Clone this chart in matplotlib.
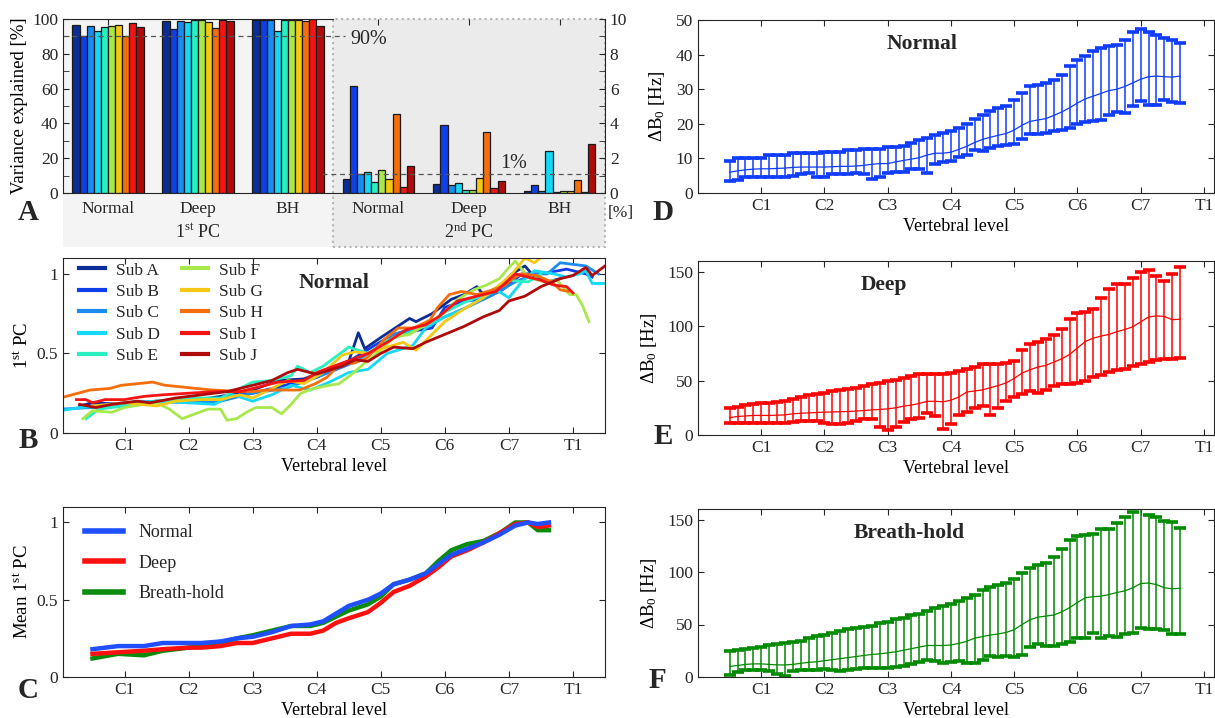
import numpy as np
import matplotlib.pyplot as plt
from matplotlib.patches import Rectangle

plt.rcParams['font.family'] = ['Liberation Serif', 'DejaVu Serif']
plt.rcParams['mathtext.fontset'] = 'custom'
plt.rcParams['mathtext.rm'] = 'Liberation Serif'
plt.rcParams['mathtext.it'] = 'Liberation Serif:italic'
plt.rcParams['mathtext.bf'] = 'Liberation Serif:bold'
plt.rcParams['font.size'] = 12.5
plt.rcParams['text.color'] = '#262626'
plt.rcParams['axes.edgecolor'] = '#262626'
plt.rcParams['xtick.color'] = '#262626'
plt.rcParams['ytick.color'] = '#262626'
plt.rcParams['xtick.direction'] = 'in'
plt.rcParams['ytick.direction'] = 'in'

# ---------------- data ----------------
subjects = ['Sub A', 'Sub B', 'Sub C', 'Sub D', 'Sub E', 'Sub F', 'Sub G', 'Sub H', 'Sub I', 'Sub J']
sub_colors = ['#0b2d96', '#0f3fe8', '#1a8cf0', '#14d8f5', '#28f0c0',
              '#a8e84a', '#f5c814', '#f56e0a', '#f51414', '#b00a0a']
groups = ['Normal', 'Deep', 'BH']

# variance explained, 1st PC [%]  (rows: Normal, Deep, BH)
pc1 = [[96.5, 90.4, 95.8, 93.1, 95.4, 96.2, 96.5, 90.4, 97.7, 95.4],
       [99.0, 94.4, 98.9, 98.1, 99.6, 99.6, 98.3, 95.0, 99.2, 98.9],
       [99.6, 99.6, 99.6, 93.1, 99.6, 99.6, 99.6, 98.9, 100.0, 96.2]]
# variance explained, 2nd PC [%]
pc2 = [[0.82, 6.13, 1.11, 1.23, 0.61, 1.34, 0.82, 4.54, 0.34, 1.53],
       [0.54, 3.93, 0.44, 0.57, 0.15, 0.17, 0.84, 3.50, 0.31, 0.71],
       [0.13, 0.44, 0.11, 2.41, 0.06, 0.11, 0.13, 0.75, 0.06, 2.80]]

level_ticks = [1, 2, 3, 4, 5, 6, 7, 8]
level_labels = ['C1', 'C2', 'C3', 'C4', 'C5', 'C6', 'C7', 'T1']

# 1st PC per subject, normal breathing (x in vertebral units, C1 = 1)
subA_x = [0.3, 0.5, 1.0, 1.5, 2.0, 2.5, 3.0, 3.4, 3.8, 4.2, 4.5, 4.65, 4.75, 5.0, 5.45, 5.55, 5.8, 6.1, 6.3, 6.5, 6.6, 6.85, 7.05, 7.25, 7.4, 7.6, 7.8]
subA_y = [0.17, 0.19, 0.18, 0.20, 0.20, 0.23, 0.27, 0.33, 0.34, 0.40, 0.45, 0.63, 0.53, 0.60, 0.72, 0.70, 0.75, 0.84, 0.87, 0.92, 0.87, 0.92, 1.00, 1.05, 0.98, 0.95, 0.97]
subB_x = [0.5, 1.0, 1.5, 2.0, 2.5, 3.0, 3.5, 4.0, 4.5, 4.9, 5.2, 5.5, 5.8, 6.0, 6.3, 6.6, 6.9, 7.2, 7.5, 7.9, 8.2, 8.3]
subB_y = [0.17, 0.19, 0.20, 0.20, 0.22, 0.25, 0.30, 0.35, 0.45, 0.55, 0.62, 0.64, 0.66, 0.79, 0.83, 0.84, 0.90, 1.00, 1.00, 1.03, 1.00, 0.98]
subC_x = [0.0, 0.5, 1.0, 1.5, 2.0, 2.5, 3.0, 3.5, 4.0, 4.5, 4.9, 5.2, 5.6, 6.0, 6.4, 6.8, 7.1, 7.4, 7.6, 7.8, 8.0, 8.2, 8.4]
subC_y = [0.15, 0.16, 0.18, 0.20, 0.19, 0.20, 0.25, 0.28, 0.35, 0.43, 0.52, 0.62, 0.67, 0.73, 0.80, 0.88, 0.95, 1.00, 1.00, 1.07, 1.06, 1.05, 1.00]
subD_x = [0.0, 0.3, 0.7, 1.2, 2.0, 2.4, 2.7, 3.0, 3.3, 3.6, 3.9, 4.2, 4.5, 4.8, 5.1, 5.5, 5.7, 6.0, 6.3, 6.6, 6.8, 7.0, 7.2, 7.4, 7.7, 7.9, 8.1, 8.2, 8.3, 8.5]
subD_y = [0.14, 0.16, 0.17, 0.20, 0.19, 0.18, 0.24, 0.20, 0.24, 0.30, 0.27, 0.32, 0.38, 0.40, 0.50, 0.55, 0.66, 0.73, 0.78, 0.85, 0.90, 0.85, 0.95, 1.02, 1.00, 0.98, 1.00, 1.02, 0.94, 0.94]
subE_x = [0.4, 0.6, 1.0, 1.5, 2.0, 2.5, 3.0, 3.3, 3.6, 3.7, 3.9, 4.1, 4.5, 4.8, 5.1, 5.5, 5.8, 6.0, 6.3, 6.7, 7.0, 7.3, 7.5]
subE_y = [0.09, 0.15, 0.17, 0.20, 0.22, 0.22, 0.32, 0.33, 0.36, 0.42, 0.38, 0.42, 0.54, 0.50, 0.58, 0.64, 0.70, 0.76, 0.82, 0.88, 0.96, 0.95, 1.00]
subF_x = [0.35, 0.5, 0.8, 1.0, 1.3, 1.5, 1.7, 1.9, 2.1, 2.3, 2.5, 2.6, 2.75, 2.9, 3.05, 3.3, 3.45, 3.6, 3.75, 3.95, 4.2, 4.35, 4.55, 4.75, 5.0, 5.2, 5.45, 5.7, 5.95, 6.2, 6.45, 6.65, 6.85, 7.0, 7.1, 7.3, 7.55, 7.75, 7.95, 8.05, 8.15, 8.25]
subF_y = [0.09, 0.14, 0.13, 0.16, 0.18, 0.19, 0.15, 0.09, 0.12, 0.15, 0.15, 0.08, 0.09, 0.13, 0.16, 0.16, 0.12, 0.18, 0.25, 0.28, 0.30, 0.31, 0.37, 0.44, 0.52, 0.60, 0.62, 0.68, 0.74, 0.84, 0.90, 0.93, 0.97, 1.04, 1.08, 0.98, 0.95, 0.96, 0.87, 0.87, 0.80, 0.70]
subG_x = [0.5, 1.0, 1.5, 1.8, 2.2, 2.5, 2.8, 3.0, 3.3, 3.55, 3.8, 4.1, 4.4, 4.6, 4.8, 5.1, 5.35, 5.55, 5.75, 6.0, 6.3, 6.6, 6.85, 7.05, 7.25, 7.4, 7.55]
subG_y = [0.17, 0.19, 0.17, 0.20, 0.21, 0.21, 0.24, 0.22, 0.28, 0.33, 0.31, 0.38, 0.49, 0.51, 0.50, 0.54, 0.57, 0.52, 0.60, 0.70, 0.78, 0.85, 0.93, 1.00, 1.10, 1.07, 1.12]
subH_x = [0.04, 0.46, 0.77, 0.95, 1.2, 1.44, 1.63, 1.88, 2.12, 2.37, 2.62, 2.99, 3.23, 3.48, 3.73, 3.98, 4.16, 4.35, 4.59, 4.78, 4.9, 5.06, 5.27, 5.52, 5.77, 5.89, 6.07, 6.26, 6.5, 6.75, 6.94, 7.06, 7.19, 7.43, 7.67, 7.8, 7.93]
subH_y = [0.225, 0.27, 0.28, 0.30, 0.31, 0.32, 0.30, 0.29, 0.28, 0.27, 0.265, 0.26, 0.27, 0.27, 0.27, 0.31, 0.35, 0.43, 0.44, 0.47, 0.52, 0.59, 0.66, 0.66, 0.71, 0.79, 0.87, 0.89, 0.87, 0.90, 0.93, 0.97, 1.00, 0.99, 0.95, 0.90, 0.89]
subI_x = [0.25, 0.4, 0.5, 0.7, 1.0, 1.3, 1.6, 2.0, 2.4, 2.8, 3.0, 3.4, 3.8, 4.0, 4.4, 4.8, 5.1, 5.4, 5.7, 5.9, 6.2, 6.5, 6.8, 7.1, 7.3, 7.5, 7.7, 7.9, 8.0]
subI_y = [0.21, 0.21, 0.19, 0.21, 0.21, 0.23, 0.24, 0.25, 0.26, 0.26, 0.28, 0.32, 0.33, 0.38, 0.44, 0.50, 0.57, 0.65, 0.68, 0.73, 0.83, 0.86, 0.89, 1.00, 0.98, 0.96, 0.93, 0.92, 0.88]
subJ_x = [0.3, 0.55, 0.8, 1.2, 1.4, 1.8, 2.2, 2.6, 3.0, 3.3, 3.55, 3.7, 4.0, 4.4, 4.6, 4.8, 5.0, 5.2, 5.5, 5.7, 6.0, 6.3, 6.6, 6.85, 7.0, 7.25, 7.5, 7.8, 8.0, 8.2, 8.3, 8.5]
subJ_y = [0.18, 0.16, 0.18, 0.20, 0.19, 0.22, 0.24, 0.26, 0.30, 0.33, 0.38, 0.40, 0.37, 0.42, 0.46, 0.45, 0.50, 0.54, 0.53, 0.57, 0.62, 0.67, 0.73, 0.77, 0.83, 0.86, 0.92, 0.97, 0.99, 1.04, 0.99, 1.05]
sub_x = [subA_x, subB_x, subC_x, subD_x, subE_x, subF_x, subG_x, subH_x, subI_x, subJ_x]
sub_y = [subA_y, subB_y, subC_y, subD_y, subE_y, subF_y, subG_y, subH_y, subI_y, subJ_y]

# mean 1st PC per breathing condition
mean_x = [0.5, 0.9, 1.3, 1.6, 2.0, 2.2, 2.5, 2.75, 3.0, 3.3, 3.6, 3.9, 4.1, 4.3, 4.5, 4.8, 5.0, 5.2, 5.45, 5.7, 5.9, 6.1, 6.35, 6.6, 6.85, 7.1, 7.3, 7.45, 7.625]
mean_normal = [0.18, 0.20, 0.20, 0.22, 0.22, 0.22, 0.23, 0.25, 0.26, 0.29, 0.33, 0.34, 0.36, 0.41, 0.46, 0.50, 0.54, 0.60, 0.63, 0.67, 0.73, 0.79, 0.83, 0.87, 0.92, 0.98, 1.00, 0.99, 1.00]
mean_deep = [0.15, 0.16, 0.17, 0.18, 0.19, 0.19, 0.20, 0.22, 0.22, 0.25, 0.28, 0.28, 0.30, 0.35, 0.38, 0.42, 0.48, 0.55, 0.59, 0.65, 0.71, 0.78, 0.82, 0.87, 0.93, 0.99, 1.00, 0.97, 0.98]
mean_bh = [0.12, 0.15, 0.14, 0.17, 0.19, 0.20, 0.22, 0.25, 0.27, 0.30, 0.33, 0.33, 0.35, 0.39, 0.43, 0.47, 0.52, 0.60, 0.63, 0.67, 0.75, 0.82, 0.86, 0.88, 0.93, 1.00, 1.00, 0.95, 0.95]

# Delta B0 across slices (x = 0.5 .. 7.625 in steps of 1/8)
b0_x = list(np.arange(58) * 0.125 + 0.5)
normal_mean = [6.0, 6.4, 6.7, 6.9, 7.0, 7.0, 7.1, 7.2, 7.4, 7.5, 7.5, 7.5, 7.5, 7.6, 7.7, 7.7, 7.8, 8.0, 8.3, 8.5,
               8.5, 9.0, 9.4, 9.8, 10.2, 11.0, 11.5, 11.5, 11.8, 12.6, 13.5, 14.6, 15.5, 16.1, 16.7, 17.2, 18.2, 19.6, 20.7, 21.1,
               21.5, 22.4, 23.4, 24.6, 26.0, 27.2, 28.0, 28.8, 29.6, 30.0, 30.8, 31.8, 32.9, 33.6, 33.8, 33.6, 33.5, 33.8]
normal_hi = [9.3, 10.2, 10.2, 10.2, 10.2, 11.0, 11.0, 11.0, 11.5, 11.5, 11.5, 11.5, 11.8, 11.8, 11.8, 12.3, 12.3, 12.6, 12.6, 12.6,
             13.2, 13.2, 13.6, 14.4, 15.3, 15.8, 16.7, 17.3, 17.8, 18.7, 19.8, 21.5, 22.6, 23.8, 24.7, 25.2, 27.0, 29.0, 30.8, 31.3,
             31.9, 32.8, 34.2, 36.7, 38.4, 39.7, 41.1, 42.0, 42.6, 42.9, 44.3, 46.6, 47.5, 46.4, 45.7, 44.9, 44.3, 43.4]
normal_lo = [3.5, 3.9, 4.7, 4.7, 4.7, 4.7, 4.7, 4.7, 5.0, 5.5, 5.8, 4.7, 4.7, 5.5, 5.5, 5.5, 5.8, 5.5, 4.1, 4.7,
             5.8, 6.1, 6.1, 6.9, 6.9, 5.8, 8.4, 9.0, 9.3, 10.5, 11.0, 12.4, 12.0, 13.0, 13.6, 13.9, 14.2, 15.6, 17.0, 17.0,
             17.3, 17.9, 18.2, 18.8, 20.0, 20.4, 20.8, 21.0, 22.5, 23.4, 23.0, 25.0, 26.5, 25.3, 25.3, 26.8, 26.3, 26.0]
deep_mean = [16.0, 17.0, 17.5, 18.0, 18.0, 18.0, 18.2, 18.5, 19.5, 20.0, 20.3, 20.7, 21.0, 21.2, 21.4, 21.6, 22.0, 22.5, 23.0, 23.5,
             24.0, 25.0, 26.5, 27.5, 29.0, 31.0, 31.0, 30.5, 32.0, 35.0, 39.5, 40.5, 41.5, 43.5, 45.5, 48.0, 52.0, 57.0, 60.0, 62.5,
             64.0, 67.0, 70.0, 74.0, 80.0, 86.0, 89.0, 91.0, 92.5, 95.0, 97.0, 99.5, 104.0, 108.5, 109.5, 109.0, 106.0, 106.5]
deep_hi = [25.0, 26.0, 28.0, 28.5, 29.8, 29.8, 30.5, 31.0, 33.4, 35.3, 37.0, 38.0, 39.0, 40.0, 41.0, 42.0, 43.5, 45.4, 47.0, 48.0,
           49.7, 50.6, 52.0, 54.3, 56.0, 56.0, 56.0, 56.0, 57.0, 59.0, 61.0, 62.5, 65.5, 65.5, 65.5, 66.5, 68.0, 78.0, 83.5, 85.5,
           88.0, 92.0, 97.5, 106.5, 112.0, 113.0, 116.0, 126.0, 134.0, 139.0, 139.0, 144.5, 150.0, 152.0, 146.5, 141.5, 148.5, 154.5]
deep_lo = [10.7, 11.3, 11.3, 11.3, 11.3, 10.7, 10.7, 10.7, 11.7, 12.6, 12.6, 12.6, 11.3, 9.8, 9.8, 10.7, 12.6, 14.4, 14.4, 7.7,
           4.6, 7.7, 11.7, 15.0, 16.0, 20.0, 17.2, 5.5, 10.4, 18.5, 21.0, 25.0, 27.0, 18.0, 25.0, 31.0, 35.0, 38.0, 40.0, 39.0,
           41.0, 45.0, 47.0, 47.0, 48.0, 50.0, 53.0, 55.0, 58.0, 60.0, 61.0, 63.0, 65.0, 67.0, 69.0, 70.0, 70.0, 71.0]
bh_mean = [10.0, 11.0, 12.0, 12.5, 12.5, 12.0, 11.5, 11.5, 12.0, 13.0, 14.0, 14.5, 15.5, 16.5, 17.5, 18.5, 19.5, 20.5, 21.5, 22.0,
           23.0, 24.0, 25.5, 27.0, 28.5, 30.0, 30.0, 30.0, 30.5, 32.0, 34.0, 37.0, 38.5, 40.0, 41.0, 42.5, 45.0, 50.0, 54.5, 57.0,
           58.0, 59.0, 62.0, 66.0, 71.0, 75.5, 76.5, 77.0, 78.5, 80.5, 82.0, 85.0, 89.0, 89.5, 88.0, 85.0, 84.0, 84.5]
bh_hi = [24.8, 25.7, 26.6, 27.5, 28.8, 30.6, 31.5, 32.4, 33.4, 34.6, 36.7, 38.9, 39.8, 41.6, 43.5, 45.3, 46.5, 47.4, 49.0, 51.1,
         52.6, 55.0, 56.6, 58.8, 60.0, 62.7, 65.5, 67.6, 70.0, 72.0, 75.0, 78.4, 83.3, 86.0, 87.2, 89.4, 93.0, 99.5, 104.0, 106.8,
         108.7, 114.2, 122.0, 130.7, 134.4, 135.3, 136.2, 140.8, 140.8, 146.3, 152.1, 157.3, 165.0, 154.6, 152.1, 149.0, 147.2, 142.3]
bh_lo = [1.8, 4.6, 6.4, 6.4, 6.4, 5.8, 3.1, 1.2, 5.8, 6.4, 6.4, 6.4, 7.3, 6.7, 5.8, 6.7, 7.7, 8.6, 8.6, 8.6,
         8.6, 9.5, 10.4, 12.2, 14.7, 16.5, 15.0, 13.5, 14.0, 15.5, 13.0, 13.0, 16.5, 20.0, 19.0, 20.0, 19.0, 21.0, 28.5, 31.0,
         29.5, 30.0, 31.0, 33.0, 37.0, 37.5, 41.5, 37.0, 39.5, 38.5, 40.5, 42.0, 46.5, 46.0, 46.0, 45.0, 41.0, 41.0]

# ---------------- layout helpers ----------------
W, H = 1215, 718
fig = plt.figure(figsize=(W / 100, H / 100), dpi=100)


def rect(x0, y0, x1, y1):
    return [x0 / W, 1 - y1 / H, (x1 - x0) / W, (y1 - y0) / H]


def fp(x, y):
    return (x / W, 1 - y / H)


def level_axis(ax, xmax):
    ax.set_xlim(0.04 if xmax > 8.3 else 0.0, xmax)
    ax.set_xticks(level_ticks)
    ax.set_xticklabels(level_labels)
    ax.tick_params(top=True, right=True, length=4, labelsize=12.5)
    ax.set_xlabel('Vertebral level', fontsize=13, labelpad=3)


# ---------------- panel A ----------------
fig.add_artist(Rectangle(fp(63, 247), 270 / W, 228 / H, transform=fig.transFigure,
                         facecolor='#f4f4f4', edgecolor='none', zorder=-2))
fig.add_artist(Rectangle(fp(333, 247), 272 / W, 228 / H, transform=fig.transFigure,
                         facecolor='#ebebeb', edgecolor='#b5b5b5', ls=':', lw=1.5, zorder=-1))

bw = 0.079
axA1 = fig.add_axes(rect(63, 19, 333, 193))
axA1.set_facecolor('none')
for g in range(3):
    for k in range(10):
        axA1.bar(g + 1 + (k - 4.5) * bw, pc1[g][k], width=bw, color=sub_colors[k],
                 edgecolor='#1a1a1a', lw=0.9)
axA1.set_xlim(0.5, 3.5)
axA1.set_ylim(0, 100)
axA1.set_yticks(range(0, 101, 20))
axA1.set_yticks(range(10, 100, 20), minor=True)
axA1.set_xticks([1, 2, 3])
axA1.set_xticklabels(groups)
axA1.tick_params(axis='x', bottom=False, top=True, length=4, pad=6)
axA1.tick_params(axis='y', which='both', length=4)
axA1.spines['right'].set_visible(False)
axA1.set_ylabel('Variance explained [%]', fontsize=13.5, labelpad=3)
axA1.plot([0.5, 3.63], [90, 90], ls=(0, (4, 3)), color='#555555', lw=0.9, clip_on=False)

axA2 = fig.add_axes(rect(333, 19, 605, 193))
axA2.set_facecolor('none')
for g in range(3):
    for k in range(10):
        axA2.bar(g + 1 + (k - 4.5) * bw, pc2[g][k], width=bw, color=sub_colors[k],
                 edgecolor='#1a1a1a', lw=0.9)
axA2.set_xlim(0.5, 3.5)
axA2.set_ylim(0, 10)
axA2.yaxis.tick_right()
axA2.set_yticks(range(0, 11, 2))
axA2.set_yticks(range(1, 10, 2), minor=True)
axA2.set_xticks([1, 2, 3])
axA2.set_xticklabels(groups)
axA2.tick_params(axis='x', bottom=False, top=True, length=4, pad=6)
axA2.tick_params(axis='y', which='both', length=4, left=False, right=True)
axA2.spines['left'].set_visible(False)
axA2.spines['top'].set_visible(False)
axA2.plot([0.38, 3.5], [1.1, 1.1], ls=(0, (4, 3)), color='#555555', lw=0.9, clip_on=False)

fig.text(*fp(350, 40), '90%', fontsize=14.5, va='center', ha='left')
fig.text(*fp(500, 163), '1%', fontsize=14.5, va='center', ha='left')
fig.text(*fp(608, 213), '[%]', fontsize=12.5, va='center', ha='left')
fig.text(*fp(198, 232), r'1$^{\rm st}$ PC', fontsize=13, va='center', ha='center')
fig.text(*fp(469, 232), r'2$^{\rm nd}$ PC', fontsize=13, va='center', ha='center')

# ---------------- panel B ----------------
axB = fig.add_axes(rect(63, 258, 605, 433))
for k in range(10):
    axB.plot(sub_x[k], sub_y[k], color=sub_colors[k], lw=2, label=subjects[k])
axB.set_ylim(0, 1.1)
axB.set_yticks([0, 0.5, 1])
axB.set_yticklabels(['0', '0.5', '1'])
level_axis(axB, 8.5)
axB.set_ylabel(r'1$^{\rm st}$ PC', fontsize=13.5, labelpad=4)
axB.text(0.5, 0.855, 'Normal', transform=axB.transAxes, fontsize=15.5, fontweight='bold',
         ha='center', va='center')
legB = axB.legend(ncol=2, loc='upper left', bbox_to_anchor=(0.03, 0.975), frameon=False,
                  handlelength=1.5, handletextpad=0.6, columnspacing=1.3, labelspacing=0.3,
                  borderaxespad=0, borderpad=0, fontsize=12.5)
for h in legB.get_lines():
    h.set_linewidth(3)

# ---------------- panel C ----------------
axC = fig.add_axes(rect(63, 507, 605, 677))
axC.plot(mean_x, mean_normal, color='#1f4fff', lw=3.2, label='Normal', zorder=3)
axC.plot(mean_x, mean_deep, color='#ff1010', lw=3.2, label='Deep', zorder=2)
axC.plot(mean_x, mean_bh, color='#0a8c0a', lw=3.2, label='Breath-hold', zorder=1)
axC.set_ylim(0, 1.1)
axC.set_yticks([0, 0.5, 1])
axC.set_yticklabels(['0', '0.5', '1'])
level_axis(axC, 8.5)
axC.set_ylabel(r'Mean 1$^{\rm st}$ PC', fontsize=13.5, labelpad=4)
legC = axC.legend(loc='upper left', bbox_to_anchor=(0.04, 0.9), frameon=False,
                  handlelength=2.1, handletextpad=0.9, labelspacing=0.75,
                  borderaxespad=0, borderpad=0, fontsize=13)
for h in legC.get_lines():
    h.set_linewidth(4)

# ---------------- panels D, E, F ----------------
def b0_panel(box, mean, lo, hi, color, title, tx, ymax, yt):
    ax = fig.add_axes(rect(*box))
    m = np.array(mean)
    err = [m - np.array(lo), np.array(hi) - m]
    ax.errorbar(b0_x, m, yerr=err, color=color, lw=0.9, elinewidth=1.1,
                capsize=4.5, capthick=2.6)
    ax.set_ylim(0, ymax)
    ax.set_yticks(yt)
    level_axis(ax, 8.16)
    ax.set_ylabel(r'ΔB$_0$ [Hz]', fontsize=13.5, labelpad=6)
    ax.text(tx, 0.86, title, transform=ax.transAxes, fontsize=15.5, fontweight='bold',
            ha='center', va='center')
    return ax


axD = b0_panel((698, 20, 1214, 193), normal_mean, normal_lo, normal_hi, '#0f3cff',
               'Normal', 0.434, 50, range(0, 51, 10))
axE = b0_panel((698, 261, 1214, 435), deep_mean, deep_lo, deep_hi, '#ff0000',
               'Deep', 0.36, 160, [0, 50, 100, 150])
axF = b0_panel((698, 509, 1214, 677), bh_mean, bh_lo, bh_hi, '#008a00',
               'Breath-hold', 0.41, 160, [0, 50, 100, 150])

# panel letters
for letter, (px, py) in zip('ABCDEF', [(28, 213), (28, 440), (28, 690),
                                       (663, 212), (663, 437), (657, 681)]):
    fig.text(*fp(px, py), letter, fontsize=21, fontweight='bold', ha='center', va='center')

fig.savefig('out.png', dpi=100)
